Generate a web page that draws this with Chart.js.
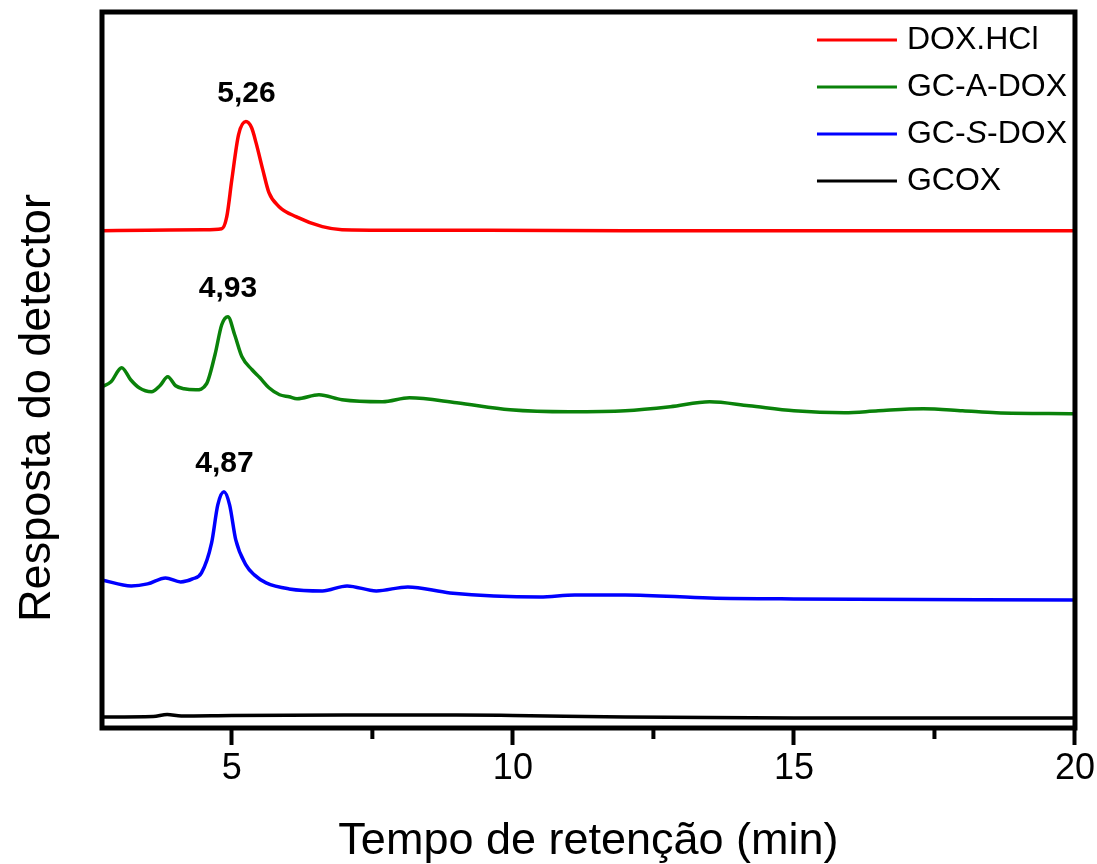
<!DOCTYPE html>
<html>
<head>
<meta charset="utf-8">
<script src="https://cdn.jsdelivr.net/npm/chart.js@4.4.1/dist/chart.umd.min.js"></script>
<style>
  html, body { margin: 0; padding: 0; background: #fff; }
  canvas { display: block; }
</style>
</head>
<body>
<canvas id="graphique" width="1097" height="864"></canvas>
<script>
const seriesNames = ["DOX.HCl", "GC-A-DOX", "GC-S-DOX", "GCOX"];
const seriesColors = ["#ff0000", "#0a820a", "#0000ff", "#000000"];

const timeDox = [2.69, 3.5, 4.5, 4.82, 4.91, 5.0, 5.12, 5.25, 5.35, 5.43, 5.55, 5.66, 5.84, 6.14, 6.61, 6.96, 8, 12, 20];
const respDox = [489, 489.5, 490, 491, 503, 540, 585, 598, 592, 577, 550, 527, 513, 503, 493, 490, 489.5, 489, 489];

const timeGcA = [2.69, 2.85, 3.04, 3.2, 3.35, 3.57, 3.72, 3.86, 4.0, 4.15, 4.36, 4.55, 4.7, 4.82, 4.93, 5.05, 5.18, 5.36, 5.5, 5.66, 5.85, 6.02, 6.16, 6.55, 6.96, 7.68, 8.16, 9.0, 9.95, 11, 12, 12.8, 13.5, 14.2, 15, 15.9, 16.5, 17.3, 18, 18.6, 20];
const respGcA = [333, 338, 352, 340, 332, 328, 334, 343, 334, 331, 330, 336, 365, 395, 403, 385, 363, 350, 342, 332, 325, 323, 321, 325, 320, 318, 322, 317, 310, 308, 309, 313, 318, 314, 309, 307, 309, 311, 309, 307, 306];

const timeGcS = [2.69, 3.21, 3.5, 3.82, 4.09, 4.3, 4.46, 4.64, 4.75, 4.86, 4.96, 5.07, 5.25, 5.4, 5.61, 6.02, 6.61, 7.05, 7.57, 8.13, 8.88, 10.48, 11.1, 12.0, 13.5, 15, 20];
const respGcS = [140, 134, 136, 142, 138, 141, 147, 177, 215, 228, 215, 180, 155, 145, 137, 131, 129, 134, 129, 133, 127, 123, 125, 125, 122, 121, 120];

const timeGcox = [2.69, 3.6, 3.85, 4.1, 5, 7, 9, 10, 12, 15, 20];
const respGcox = [3, 3.5, 5.5, 4, 4.5, 5, 5, 4.5, 3, 2, 2];

const peakTimes = [5.26, 4.93, 4.87];
const peakLabels = ["5,26", "4,93", "4,87"];

const majorTicks = [5, 10, 15, 20];
const minorTicks = [7.5, 12.5, 17.5];

const FONT = "'Liberation Sans', Arial, sans-serif";

const toPoints = (xs, ys) => xs.map((x, i) => ({ x: x, y: ys[i] }));
const allSeries = [
    toPoints(timeDox, respDox),
    toPoints(timeGcA, respGcA),
    toPoints(timeGcS, respGcS),
    toPoints(timeGcox, respGcox)
];

// cadre, petites graduations, titre vertical, légende et étiquettes des pics
const decorPlugin = {
    id: "decor",
    afterDatasetsDraw(chart) {
        const { ctx, chartArea: a, scales } = chart;
        const xs = scales.x, ys = scales.y;
        ctx.save();

        ctx.strokeStyle = "#000";
        ctx.lineWidth = 5;
        ctx.strokeRect(a.left, a.top, a.right - a.left, a.bottom - a.top);

        ctx.lineWidth = 4;
        minorTicks.forEach(v => {
            const px = xs.getPixelForValue(v);
            ctx.beginPath();
            ctx.moveTo(px, a.bottom);
            ctx.lineTo(px, a.bottom + 11);
            ctx.stroke();
        });

        // titre de l'axe y
        ctx.save();
        ctx.translate(50, 408);
        ctx.rotate(-Math.PI / 2);
        ctx.fillStyle = "#000";
        ctx.font = "45px " + FONT;
        ctx.textAlign = "center";
        ctx.textBaseline = "alphabetic";
        ctx.fillText("Resposta do detector", 0, 0);
        ctx.restore();

        // légende
        const legendParts = [
            [["DOX.HCl", false]],
            [["GC-A-DOX", false]],
            [["GC-", false], ["S", true], ["-DOX", false]],
            [["GCOX", false]]
        ];
        ctx.textBaseline = "middle";
        ctx.textAlign = "left";
        legendParts.forEach((parts, i) => {
            const y = a.top + 28 + i * 47;
            ctx.strokeStyle = seriesColors[i];
            ctx.lineWidth = 3;
            ctx.beginPath();
            ctx.moveTo(a.right - 258, y);
            ctx.lineTo(a.right - 178, y);
            ctx.stroke();
            let x = a.right - 168;
            ctx.fillStyle = "#000";
            parts.forEach(([txt, ital]) => {
                ctx.font = (ital ? "italic " : "") + "32px " + FONT;
                ctx.fillText(txt, x, y);
                x += ctx.measureText(txt).width;
            });
        });

        // étiquettes des pics
        ctx.font = "bold 30px " + FONT;
        ctx.textAlign = "center";
        ctx.textBaseline = "alphabetic";
        ctx.fillStyle = "#000";
        peakLabels.forEach((lab, i) => {
            const top = Math.max(...allSeries[i].map(p => p.y));
            ctx.fillText(lab, xs.getPixelForValue(peakTimes[i]), ys.getPixelForValue(top) - 20);
        });

        ctx.restore();
    }
};

const ctx = document.getElementById("graphique").getContext("2d");
new Chart(ctx, {
    type: "line",
    data: {
        datasets: allSeries.map((pts, i) => ({
            label: seriesNames[i],
            data: pts,
            borderColor: seriesColors[i],
            backgroundColor: seriesColors[i],
            borderWidth: 3.5,
            pointRadius: 0,
            cubicInterpolationMode: "monotone",
            fill: false
        }))
    },
    options: {
        responsive: false,
        animation: false,
        layout: { padding: { top: 12, right: 22, bottom: 0, left: 0 } },
        plugins: {
            legend: { display: false },
            tooltip: { enabled: false }
        },
        scales: {
            x: {
                type: "linear",
                min: 2.69,
                max: 20,
                afterFit(scale) { scale.height = 136; },
                afterBuildTicks(scale) { scale.ticks = majorTicks.map(v => ({ value: v })); },
                grid: { drawOnChartArea: false, drawTicks: true, tickLength: 17, tickWidth: 4, tickColor: "#000" },
                border: { display: false },
                ticks: { color: "#000", padding: 2, font: { size: 36, family: FONT }, maxRotation: 0 },
                title: {
                    display: true,
                    text: "Tempo de retenção (min)",
                    color: "#000",
                    font: { size: 45, family: FONT },
                    padding: { top: 0, bottom: -5 }
                }
            },
            y: {
                type: "linear",
                min: -8,
                max: 707.5,
                afterFit(scale) { scale.width = 102; },
                grid: { display: false },
                border: { display: false },
                ticks: { display: false }
            }
        }
    },
    plugins: [decorPlugin]
});
</script>
</body>
</html>
